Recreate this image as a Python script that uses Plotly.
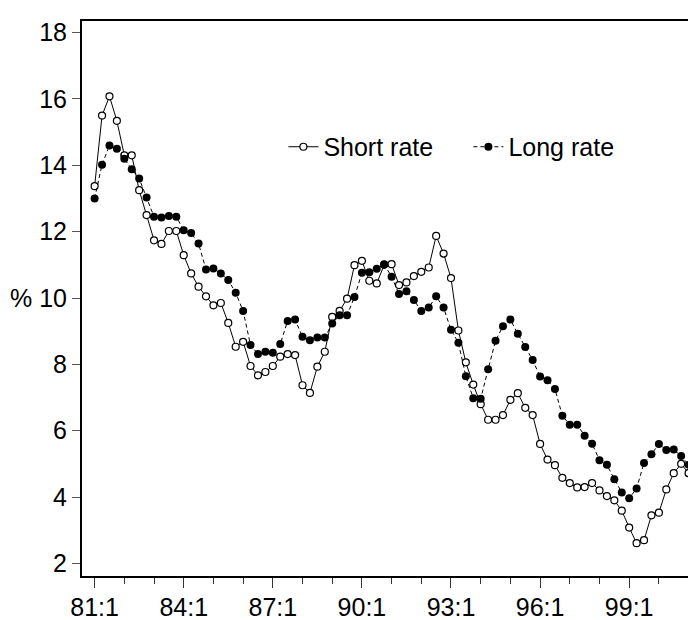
import plotly.graph_objects as go

# quarterly observations, 81:1 .. 01:1
quarters = list(range(81))
tick_pos = [0, 12, 24, 36, 48, 60, 72]
tick_labels = ["81:1", "84:1", "87:1", "90:1", "93:1", "96:1", "99:1"]

short_rate = [
    13.37, 15.50, 16.08, 15.34, 14.30, 14.30, 13.25, 12.50, 11.74, 11.63,
    12.02, 12.02, 11.29, 10.74, 10.34, 10.05, 9.78, 9.85, 9.25, 8.53,
    8.68, 7.95, 7.67, 7.77, 7.95, 8.23, 8.31, 8.28, 7.37, 7.14,
    7.93, 8.38, 9.43, 9.61, 9.98, 10.99, 11.12, 10.52, 10.44, 11.00,
    11.02, 10.39, 10.47, 10.66, 10.79, 10.92, 11.87, 11.34, 10.60, 9.02,
    8.06, 7.39, 6.80, 6.33, 6.33, 6.47, 6.93, 7.13, 6.69, 6.47,
    5.60, 5.13, 4.96, 4.58, 4.42, 4.29, 4.30, 4.42, 4.20, 4.03,
    3.90, 3.59, 3.08, 2.61, 2.70, 3.45, 3.53, 4.23, 4.72, 5.00,
    4.72,
]

long_rate = [
    13.00, 14.02, 14.60, 14.50, 14.20, 13.88, 13.60, 13.03, 12.45, 12.43,
    12.47, 12.45, 12.04, 11.96, 11.64, 10.86, 10.89, 10.74, 10.54, 10.16,
    9.61, 8.58, 8.31, 8.38, 8.35, 8.61, 9.31, 9.35, 8.83, 8.73,
    8.81, 8.81, 9.23, 9.48, 9.48, 10.03, 10.76, 10.78, 10.88, 11.02,
    10.64, 10.12, 10.20, 9.94, 9.61, 9.71, 10.05, 9.71, 9.04, 8.65,
    7.64, 6.98, 6.96, 7.85, 8.71, 9.15, 9.35, 8.92, 8.52, 8.13,
    7.63, 7.52, 7.26, 6.45, 6.18, 6.18, 5.85, 5.61, 5.11, 4.97,
    4.54, 4.14, 3.96, 4.26, 5.03, 5.29, 5.60, 5.42, 5.43, 5.24,
    4.97,
]

FONT = "Liberation Sans, Arial, sans-serif"

fig = go.Figure()

fig.add_trace(go.Scatter(
    x=quarters, y=short_rate,
    mode="lines+markers",
    name="Short rate",
    line=dict(color="black", width=1),
    marker=dict(symbol="circle", size=7, color="white",
                line=dict(color="black", width=1.2)),
))

fig.add_trace(go.Scatter(
    x=quarters, y=long_rate,
    mode="lines+markers",
    name="Long rate",
    line=dict(color="black", width=1, dash="4px,3px"),
    marker=dict(symbol="circle", size=8, color="black"),
))

fig.add_annotation(
    text="%", xref="paper", yref="y",
    x=0, y=10, xanchor="right", yanchor="middle",
    xshift=-48, showarrow=False,
    font=dict(size=25, color="black", family=FONT),
)

# page body has an 8px margin, so the figure is sized to end at the window edge
fig.update_layout(
    width=688, height=612,
    margin=dict(l=74, r=0, t=13, b=44),
    paper_bgcolor="white",
    plot_bgcolor="white",
    font=dict(family=FONT, size=25, color="black"),
    legend=dict(
        orientation="h",
        x=0.328, y=0.773,
        xanchor="left", yanchor="middle",
        bgcolor="rgba(0,0,0,0)",
        font=dict(size=25),
        entrywidth=140,
    ),
    xaxis=dict(
        range=[-1.7, 81],
        tickvals=tick_pos,
        ticktext=tick_labels,
        ticks="outside", ticklen=10, tickcolor="#333",
        ticklabelstandoff=-2,
        minor=dict(dtick=4, tick0=0, ticks="outside", ticklen=6, tickcolor="#333"),
        showgrid=False, zeroline=False,
        showline=True, linecolor="black", linewidth=2, mirror=True,
    ),
    yaxis=dict(
        range=[1.62, 18.35],
        tickvals=[2, 4, 6, 8, 10, 12, 14, 16, 18],
        ticks="outside", ticklen=8, tickcolor="#555",
        showgrid=False, zeroline=False,
        showline=True, linecolor="black", linewidth=2,
    ),
)

fig.write_html("out.html")
